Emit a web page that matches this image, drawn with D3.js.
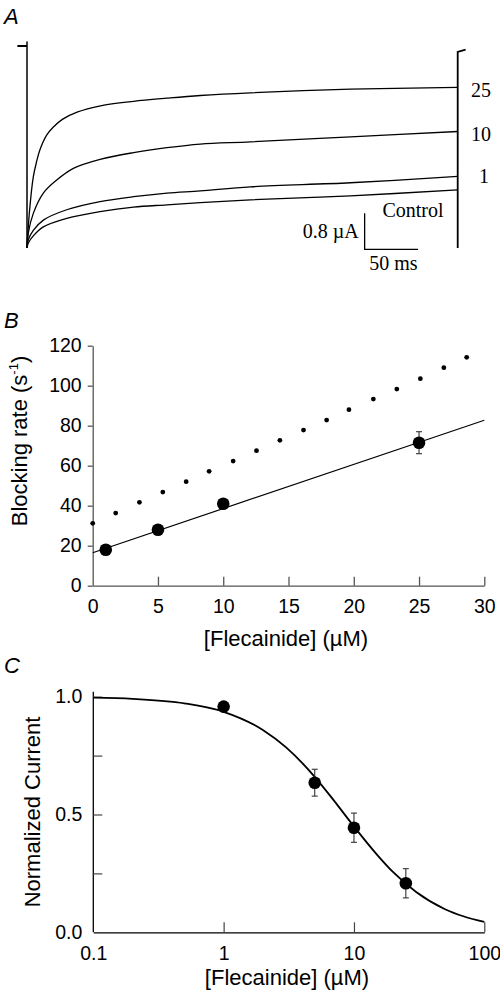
<!DOCTYPE html>
<html><head><meta charset="utf-8">
<script src="https://cdn.jsdelivr.net/npm/d3@7/dist/d3.min.js"></script>
<style>
html,body{margin:0;padding:0;background:#fff;}
svg{display:block;}
.sans{font-family:"Liberation Sans",Arial,Helvetica,sans-serif;}
.serif{font-family:"Liberation Serif","Times New Roman",serif;}
</style></head>
<body>
<script>
// ---------- Panel A: current traces (time in ms, current in µA) ----------
const traceLabels = ["25", "10", "1", "Control"];
const t25 = [0, 2.2, 5.9, 9.1, 12.2, 18.4, 24.7, 33.1, 46.9, 68.7, 99.7, 131, 162.2, 209.1, 302.8, 403.1];
const i25 = [-4.49, -3.71, -2.91, -2.56, -2.30, -1.98, -1.80, -1.63, -1.47, -1.33, -1.23, -1.16, -1.10, -1.04, -0.96, -0.92];
const t10 = [0, 1.2, 5.9, 15.3, 27.8, 43.4, 68.4, 99.7, 131, 162.2, 209.1, 302.8, 403.1];
const i10 = [-4.49, -4.16, -3.72, -3.27, -2.98, -2.72, -2.52, -2.37, -2.26, -2.18, -2.13, -2.02, -1.90];
const t1 = [0, 1.2, 5.9, 15.3, 37.2, 68.4, 99.7, 131, 162.2, 209.1, 302.8, 403.1];
const i1 = [-4.49, -4.31, -4.10, -3.87, -3.64, -3.46, -3.35, -3.27, -3.22, -3.13, -3.04, -2.90];
const tCtl = [0, 1.2, 5.9, 15.3, 37.2, 68.4, 99.7, 131, 162.2, 209.1, 302.8, 403.1];
const iCtl = [-4.49, -4.38, -4.22, -4.02, -3.83, -3.68, -3.58, -3.53, -3.48, -3.42, -3.33, -3.20];
const stepStartT = [-9, 0];      // holding baseline before the pulse
const pulseEndT = [403.1, 410.5]; // end of pulse
const scaleBarT = [316, 366];    // 50 ms
const scaleBarI = [-4.52, -3.72]; // 0.8 µA

// ---------- Panel B: blocking rate vs [flecainide] ----------
const bConc = [1, 5, 10, 25];
const bRate = [18, 28, 41, 71.5];
const bErr = [0, 0, 0, 5.5];
const bFitX = [0, 30];
const bFitY = [16.5, 82.7];
const bDotX = [0, 1.76, 3.58, 5.37, 7.16, 8.92, 10.76, 12.55, 14.34, 16.15, 17.92, 19.63, 21.5, 23.3, 25.1, 26.9, 28.65];
const bDotY = [31.2, 36.3, 41.7, 46.8, 52, 57.2, 62.3, 67.5, 72.7, 77.8, 82.8, 88, 93.3, 98.3, 103.5, 109, 114.2];
const bXTicks = [0, 5, 10, 15, 20, 25, 30];
const bYTicks = [0, 20, 40, 60, 80, 100, 120];

// ---------- Panel C: normalized current vs [flecainide] ----------
const cConc = [1, 5, 10, 25];
const cCur = [0.958, 0.635, 0.444, 0.208];
const cErr = [0, 0.057, 0.062, 0.062];
const cFitX = [0.1, 0.2, 0.5, 1, 2, 3, 5, 7, 10, 15, 20, 30, 50, 70, 100];
const cFitY = [0.996, 0.991, 0.972, 0.936, 0.859, 0.786, 0.660, 0.560, 0.449, 0.330, 0.255, 0.171, 0.098, 0.067, 0.044];
const cXTicks = [0.1, 1, 10, 100];
const cXLabels = ["0.1", "1", "10", "100"];
const cYTicks = [0, 0.25, 0.5, 0.75, 1];
const cYLabels = ["0.0", "", "0.5", "", "1.0"];

const W = 500, H = 996;
const svg = d3.select("body").append("svg").attr("width", W).attr("height", H);

// panel letters
[["A", 24], ["B", 328], ["C", 673]].forEach(([t, y]) => {
  svg.append("text").attr("class", "sans").attr("x", 4).attr("y", y)
    .attr("font-size", 22).attr("font-style", "italic").text(t);
});

// ===== Panel A =====
{
  const x = d3.scaleLinear().domain([0, 403.1]).range([27, 457.7]);
  const y = d3.scaleLinear().domain([0, -4.49]).range([46, 248]);
  const g = svg.append("g");
  const line = d3.line().x(d => x(d[0])).y(d => y(d[1])).curve(d3.curveCatmullRom.alpha(0.5));
  const traces = [[t25, i25], [t10, i10], [t1, i1], [tCtl, iCtl]];
  traces.forEach(([ts, is]) => {
    g.append("path").datum(ts.map((t, k) => [t, is[k]]))
      .attr("d", line).attr("fill", "none").attr("stroke", "#000").attr("stroke-width", 1.3);
  });
  // pulse onset
  g.append("path").attr("d", d3.line()([[x(stepStartT[0]), y(0)], [x(stepStartT[1]), y(0)]]))
    .attr("stroke", "#000").attr("stroke-width", 2).attr("fill", "none");
  g.append("path").attr("d", d3.line()([[x(0), y(0.1)], [x(0), y(-4.49)]]))
    .attr("stroke", "#000").attr("stroke-width", 1.5).attr("fill", "none");
  // pulse end
  g.append("path").attr("d", d3.line()([[x(pulseEndT[0]), y(-4.49)], [x(pulseEndT[0]), y(-0.13)], [x(pulseEndT[1]), y(-0.08)]]))
    .attr("stroke", "#000").attr("stroke-width", 1.8).attr("fill", "none");
  // scale bar
  g.append("path").attr("d", d3.line()([[x(scaleBarT[0]), y(scaleBarI[1])], [x(scaleBarT[0]), y(scaleBarI[0])], [x(scaleBarT[1]), y(scaleBarI[0])]]))
    .attr("stroke", "#000").attr("stroke-width", 1.3).attr("fill", "none");
  g.append("text").attr("class", "serif").attr("font-size", 20)
    .attr("x", x(scaleBarT[0]) - 6).attr("y", 238).attr("text-anchor", "end").text("0.8 \u00b5A");
  g.append("text").attr("class", "serif").attr("font-size", 20)
    .attr("x", (x(scaleBarT[0]) + x(scaleBarT[1])) / 2 + 2).attr("y", 270).attr("text-anchor", "middle").text("50 ms");
  // trace labels
  const labPos = [[481, 97], [481, 141], [484, 183], [413, 217]];
  traceLabels.forEach((t, k) => {
    g.append("text").attr("class", "serif").attr("font-size", 20)
      .attr("x", labPos[k][0]).attr("y", labPos[k][1]).attr("text-anchor", "middle").text(t);
  });
}

// ===== Panel B =====
{
  const x = d3.scaleLinear().domain([0, 30]).range([92.7, 484.3]);
  const y = d3.scaleLinear().domain([0, 120]).range([585.7, 345.7]);
  const g = svg.append("g");
  const axCol = "#555";
  const xAx = g.append("g").attr("transform", `translate(0,${y(0)})`)
    .call(d3.axisBottom(x).tickValues(bXTicks).tickSizeInner(-9).tickSizeOuter(0).tickPadding(13));
  const yAx = g.append("g").attr("transform", `translate(${x(0)},0)`)
    .call(d3.axisLeft(y).tickValues(bYTicks).tickSizeInner(5).tickSizeOuter(0).tickPadding(6));
  [xAx, yAx].forEach(a => {
    a.select(".domain").attr("stroke", axCol).attr("stroke-width", 1.3);
    a.selectAll(".tick line").attr("stroke", axCol).attr("stroke-width", 1.3);
    a.selectAll("text").attr("class", "sans").attr("font-size", 19.5).attr("fill", "#000");
  });
  xAx.selectAll(".tick").filter(d => d === 0).select("line").remove();
  // dotted prediction
  g.selectAll("circle.dot").data(bDotX.map((v, k) => [v, bDotY[k]])).enter().append("circle")
    .attr("cx", d => x(d[0])).attr("cy", d => y(d[1])).attr("r", 2.4).attr("fill", "#000");
  // fit line
  g.append("path").datum(bFitX.map((v, k) => [v, bFitY[k]]))
    .attr("d", d3.line().x(d => x(d[0])).y(d => y(d[1])))
    .attr("stroke", "#000").attr("stroke-width", 1.2).attr("fill", "none");
  // error bars
  bConc.forEach((c, k) => {
    if (bErr[k] > 0) {
      const e = g.append("g").attr("stroke", "#333").attr("stroke-width", 1.1);
      e.append("line").attr("x1", x(c)).attr("x2", x(c)).attr("y1", y(bRate[k] - bErr[k])).attr("y2", y(bRate[k] + bErr[k]));
      [bRate[k] - bErr[k], bRate[k] + bErr[k]].forEach(v => e.append("line")
        .attr("x1", x(c) - 3).attr("x2", x(c) + 3).attr("y1", y(v)).attr("y2", y(v)));
    }
  });
  g.selectAll("circle.pt").data(bConc.map((v, k) => [v, bRate[k]])).enter().append("circle")
    .attr("cx", d => x(d[0])).attr("cy", d => y(d[1])).attr("r", 6.3).attr("fill", "#000");
  // titles
  g.append("text").attr("class", "sans").attr("font-size", 22).attr("text-anchor", "middle")
    .attr("x", 286).attr("y", 646).text("[Flecainide] (\u00b5M)");
  const yt = g.append("text").attr("class", "sans").attr("font-size", 22).attr("text-anchor", "middle")
    .attr("transform", "translate(27,441) rotate(-90)");
  yt.append("tspan").text("Blocking rate (s");
  yt.append("tspan").attr("font-size", 13).attr("dy", -9).text("-1");
  yt.append("tspan").attr("dy", 9).text(")");
}

// ===== Panel C =====
{
  const x = d3.scaleLog().domain([0.1, 100]).range([93.3, 484.3]);
  const y = d3.scaleLinear().domain([0, 1]).range([932.3, 696.7]);
  const g = svg.append("g");
  const xAx = g.append("g").attr("transform", `translate(0,${y(0)})`)
    .call(d3.axisBottom(x).tickValues(cXTicks).tickFormat((d, k) => cXLabels[k]).tickSizeInner(-10).tickSizeOuter(0).tickPadding(14));
  const yAx = g.append("g").attr("transform", `translate(${x(0.1)},0)`)
    .call(d3.axisLeft(y).tickValues(cYTicks).tickFormat((d, k) => cYLabels[k]).tickSizeInner(-9).tickSizeOuter(0).tickPadding(11));
  [xAx, yAx].forEach(a => {
    a.select(".domain").attr("stroke", "#000").attr("stroke-width", 1.3);
    a.selectAll(".tick line").attr("stroke", "#444").attr("stroke-width", 1.2);
    a.selectAll("text").attr("class", "sans").attr("font-size", 19.5).attr("fill", "#000");
  });
  xAx.selectAll(".tick").filter(d => d === 0.1).select("line").remove();
  yAx.selectAll(".tick").filter(d => d === 0).select("line").remove();
  yAx.select(".domain").attr("d", `M0,${y(1) - 5}V${y(0)}`);
  // fit curve
  g.append("path").datum(cFitX.map((v, k) => [v, cFitY[k]]))
    .attr("d", d3.line().x(d => x(d[0])).y(d => y(d[1])).curve(d3.curveMonotoneX))
    .attr("stroke", "#000").attr("stroke-width", 1.8).attr("fill", "none");
  // error bars
  cConc.forEach((c, k) => {
    if (cErr[k] > 0) {
      const e = g.append("g").attr("stroke", "#333").attr("stroke-width", 1.1);
      e.append("line").attr("x1", x(c)).attr("x2", x(c)).attr("y1", y(cCur[k] - cErr[k])).attr("y2", y(cCur[k] + cErr[k]));
      [cCur[k] - cErr[k], cCur[k] + cErr[k]].forEach(v => e.append("line")
        .attr("x1", x(c) - 3).attr("x2", x(c) + 3).attr("y1", y(v)).attr("y2", y(v)));
    }
  });
  g.selectAll("circle.pt").data(cConc.map((v, k) => [v, cCur[k]])).enter().append("circle")
    .attr("cx", d => x(d[0])).attr("cy", d => y(d[1])).attr("r", 6.3).attr("fill", "#000");
  g.append("text").attr("class", "sans").attr("font-size", 22).attr("text-anchor", "middle")
    .attr("x", 287).attr("y", 985).text("[Flecainide] (\u00b5M)");
  g.append("text").attr("class", "sans").attr("font-size", 22).attr("text-anchor", "middle")
    .attr("transform", "translate(40,812) rotate(-90)").text("Normalized Current");
}
</script>
</body></html>
